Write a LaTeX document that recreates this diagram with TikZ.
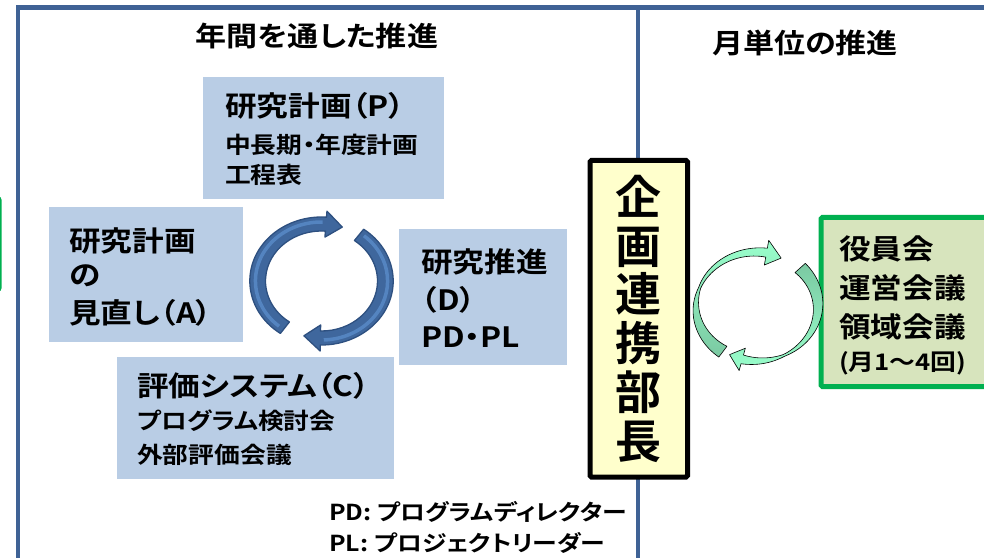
\documentclass[tikz,border=0pt]{standalone}
\usepackage{fontspec}
\setmainfont{Noto Sans CJK JP}[BoldFont=* Bold, FakeStretch=1.13, RawFeature=+palt]
\newfontfamily\vfont{Noto Sans CJK JP}[BoldFont=* Bold]
\definecolor{frameblue}{HTML}{3F6295}
\definecolor{boxblue}{HTML}{B9CDE5}
\definecolor{arrowblue}{HTML}{3F679D}
\definecolor{arrowline}{HTML}{2E5080}
\definecolor{arrowhi}{HTML}{5484C0}
\definecolor{yellowfill}{HTML}{FFFFCC}
\definecolor{greenline}{HTML}{00B050}
\definecolor{greenfill}{HTML}{D7E4BD}
\definecolor{mintlight}{HTML}{99FFCC}
\definecolor{mintdark}{HTML}{7BC9A2}
\tikzset{
  frame/.style={draw=frameblue, line width=4.5pt},
  pdcabox/.style={fill=boxblue, inner sep=0pt, anchor=south west},
  headtxt/.style={anchor=west, inner sep=0pt, font=\bfseries\fontsize{28}{30}\selectfont},
  subtxt/.style={anchor=west, inner sep=0pt, font=\bfseries\fontsize{22.8}{24}\selectfont},
  titletxt/.style={inner sep=0pt, font=\bfseries\fontsize{27.5}{30}\selectfont},
  foottxt/.style={anchor=west, inner sep=0pt, font=\bfseries\fontsize{22}{24}\selectfont},
  cyclearrow/.style={fill=arrowblue, draw=arrowline, line width=1.3pt, line join=round},
  mintarrow/.style={draw=black, line width=0.6pt, line join=round},
  declare function={wprof(\t,\m)=(\t<\m)*(13-11*\t/\m)+(\t>=\m)*(2+7*(\t-\m)/(1-\m));}
}
\begin{document}
\begin{tikzpicture}[x=1pt,y=1pt]
\path[use as bounding box] (0,0) rectangle (984,557);
% frames
\draw[frame] (18,-20) rectangle (638,549.5);
\draw[frame] (638,-20) rectangle (1010,549.5);
% partially visible green box at left edge
\node[draw=greenline, line width=3.5pt, rounded corners=2pt, minimum width=60pt, minimum height=92pt, anchor=east] (leftgreen) at (1.5,313) {};
% titles
\node[titletxt] (title1) at (317,521) {年間を通した推進};
\node[titletxt] (title2) at (805,514) {月単位の推進};
% PDCA boxes
\node[pdcabox, minimum width=241pt, minimum height=122pt] (boxP) at (203,358) {};
\node[pdcabox, minimum width=194pt, minimum height=135pt] (boxA) at (49,215) {};
\node[pdcabox, minimum width=168pt, minimum height=136pt] (boxD) at (399,192) {};
\node[pdcabox, minimum width=277pt, minimum height=122pt] (boxC) at (117,78) {};
% texts P
\node[headtxt] (p1) at (225,451) {研究計画（P）};
\node[subtxt] (p2) at (225,412) {中長期・年度計画};
\node[subtxt] (p3) at (225,382) {工程表};
% texts A
\node[headtxt] (a1) at (69,316) {研究計画};
\node[headtxt] (a2) at (69,281) {の};
\node[headtxt] (a3) at (69,244) {見直し（A）};
% texts D
\node[headtxt] (d1) at (421,295) {研究推進};
\node[headtxt] (d2) at (421,257) {（D）};
\node[headtxt] (d3) at (421,220) {PD・PL};
% texts C
\node[headtxt] (c1) at (137,171) {評価システム（C）};
\node[subtxt] (c2) at (137,136) {プログラム検討会};
\node[subtxt] (c3) at (137,102) {外部評価会議};
% footnote
\node[foottxt] (f1) at (329,45) {PD: プログラムディレクター};
\node[foottxt] (f2) at (329,14) {PL: プロジェクトリーダー};
% yellow box
\node[draw=black, fill=yellowfill, line width=5pt, rounded corners=1.5pt, minimum width=97.5pt, minimum height=316.5pt, align=center, inner sep=0pt, font=\vfont\bfseries\fontsize{46}{48.8}\selectfont] (chief) at (638.75,238.25) {企\\画\\連\\携\\部\\長};
% green box
\node[draw=greenline, fill=greenfill, line width=5pt, rounded corners=1.5pt, minimum width=182pt, minimum height=169pt, anchor=south west] (gbox) at (818.5,168) {};
\node[headtxt] (g1) at (839,308) {役員会};
\node[headtxt] (g2) at (839,269) {運営会議};
\node[headtxt] (g3) at (839,230) {領域会議};
\node[subtxt] (g4) at (839,194) {(月1～4回)};
% blue cycle arrows
\begin{scope}[shift={(321.5,276)}, xscale=1.12]
\filldraw[cyclearrow] (235:64) arc[start angle=235, end angle=86, radius=64] -- (86:70) -- (71:57) -- (86:44) -- (86:50) arc[start angle=86, end angle=235, radius=50] -- cycle;
\draw[arrowhi, line width=3.5pt] (230:59) arc[start angle=230, end angle=89, radius=59];
\filldraw[cyclearrow] (54:64) arc[start angle=54, end angle=-91, radius=64] -- (-91:70) -- (-106:57) -- (-91:44) -- (-91:50) arc[start angle=-91, end angle=54, radius=50] -- cycle;
\draw[arrowhi, line width=3.5pt] (50:59) arc[start angle=50, end angle=-88, radius=59];
\end{scope}
% mint cycle arrows
\begin{scope}[shift={(757,250.5)}, xscale=1.12]
\shadedraw[mintarrow, top color=mintlight, bottom color=mintdark]
  plot[domain=236:81, samples=50, variable=\a] (\a:{54.5+0.5*wprof((236-\a)/155,0.49)})
  -- (81:67) -- (66:53) -- (81:42)
  -- plot[domain=81:236, samples=50, variable=\a] (\a:{54.5-0.5*wprof((236-\a)/155,0.49)}) -- cycle;
\shadedraw[mintarrow, top color=mintdark, bottom color=mintlight]
  plot[domain=45:-104, samples=50, variable=\a] (\a:{54.5+0.5*wprof((45-\a)/149,0.73)})
  -- (-104:66) -- (-117:54) -- (-104:43)
  -- plot[domain=-104:45, samples=50, variable=\a] (\a:{54.5-0.5*wprof((45-\a)/149,0.73)}) -- cycle;
\end{scope}
\end{tikzpicture}
\end{document}
